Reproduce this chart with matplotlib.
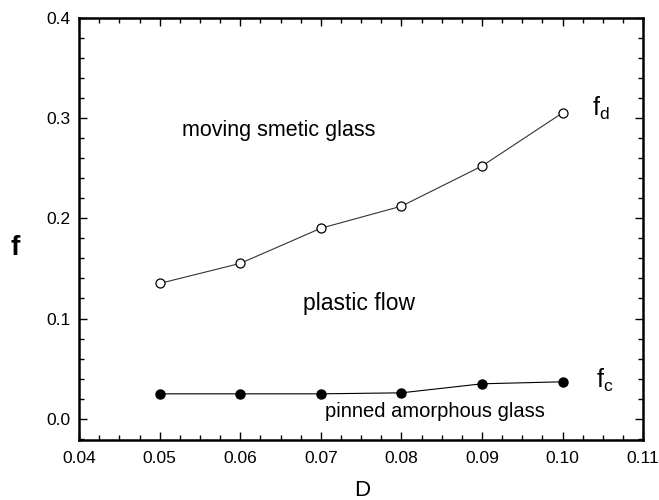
import matplotlib
matplotlib.use("Agg")
from matplotlib import pyplot as plt
from matplotlib.ticker import MultipleLocator

plt.rcParams['font.family'] = ['Liberation Sans', 'DejaVu Sans']

# data
D = [0.05, 0.06, 0.07, 0.08, 0.09, 0.10]
f_d = [0.135, 0.155, 0.190, 0.212, 0.252, 0.305]
f_c = [0.025, 0.025, 0.025, 0.026, 0.035, 0.037]

fig = plt.figure(figsize=(6.59, 5.0), dpi=100)
ax = fig.add_axes([0.12, 0.12, 0.856, 0.845])

ax.plot(D, f_d, color="#333333", lw=0.8, marker="o", ms=6.5,
        mfc="white", mec="black", mew=0.9)
ax.plot(D, f_c, color="black", lw=0.8, marker="o", ms=6.5,
        mfc="black", mec="black")

ax.set_xlim(0.04, 0.11)
ax.set_ylim(-0.021, 0.4)
ax.xaxis.set_minor_locator(MultipleLocator(0.0025))
ax.yaxis.set_minor_locator(MultipleLocator(0.02))
ax.set_xticks([0.04, 0.05, 0.06, 0.07, 0.08, 0.09, 0.10, 0.11])
ax.set_xticklabels(["0.04", "0.05", "0.06", "0.07", "0.08", "0.09", "0.10", "0.11"])
ax.set_yticks([0.0, 0.1, 0.2, 0.3, 0.4])
ax.set_yticklabels(["0.0", "0.1", "0.2", "0.3", "0.4"])

ax.tick_params(which="both", direction="in", top=True, right=True,
               labelsize=12.5, width=1)
ax.tick_params(axis="x", which="major", pad=8)
ax.tick_params(axis="y", which="major", pad=6)
ax.tick_params(which="major", length=6)
ax.tick_params(which="minor", length=3.5)
for s in ax.spines.values():
    s.set_linewidth(1.8)

fig.text(362 / 659, 1 - 490 / 500, "D", fontsize=16, ha="center", va="center")
fig.text(15 / 659, 1 - 248 / 500, "f", fontsize=20, fontweight="bold",
         ha="center", va="center")

ax.text(0.0648, 0.287, "moving smetic glass", fontsize=15.5, ha="center", va="center")
ax.text(0.0747, 0.115, "plastic flow", fontsize=16.5, ha="center", va="center")
ax.text(0.0841, 0.007, "pinned amorphous glass", fontsize=14.5, ha="center", va="center")
ax.text(0.1036, 0.309, r"f$_\mathregular{d}$", fontsize=18, ha="left", va="center")
ax.text(0.1041, 0.038, r"f$_\mathregular{c}$", fontsize=18, ha="left", va="center")

fig.savefig("out.png", dpi=100)
